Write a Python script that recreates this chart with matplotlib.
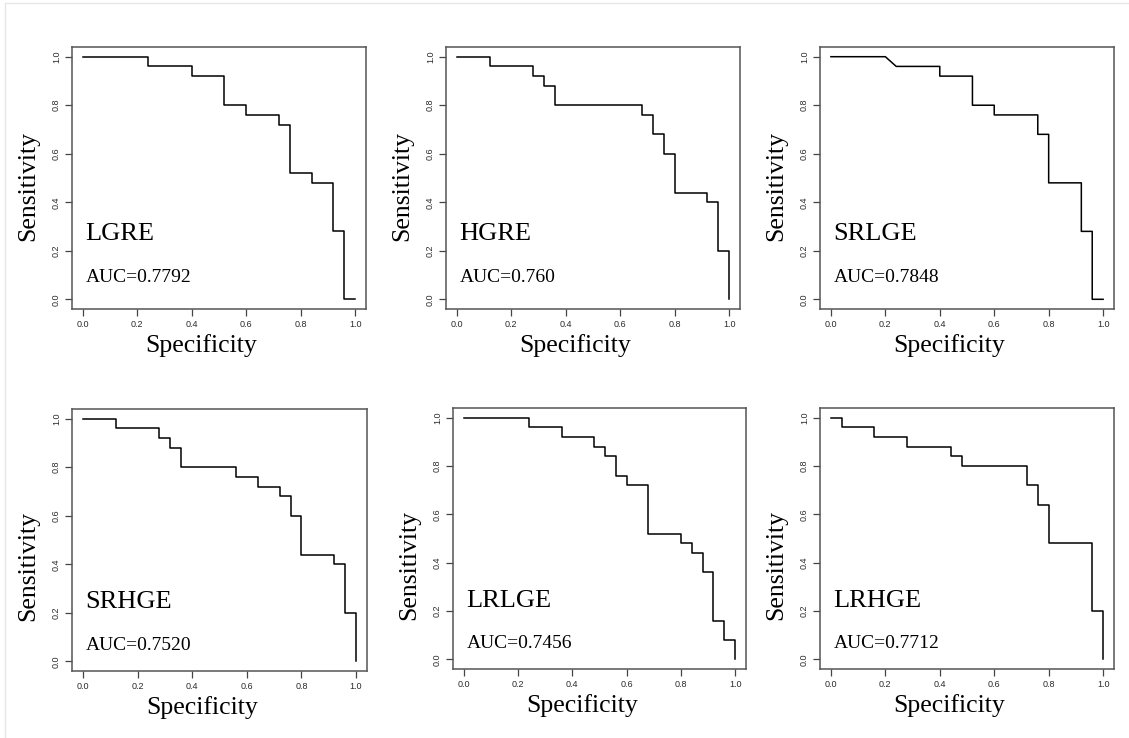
import matplotlib
matplotlib.use("Agg")
import matplotlib.pyplot as plt
from matplotlib.lines import Line2D

# ROC curve vertices (specificity, sensitivity)
lgre_spec = [0, 0.24, 0.24, 0.40, 0.40, 0.52, 0.52, 0.60, 0.60, 0.72, 0.72, 0.76, 0.76, 0.84, 0.84, 0.92, 0.92, 0.96, 0.96, 1.0]
lgre_sens = [1, 1, 0.96, 0.96, 0.92, 0.92, 0.80, 0.80, 0.76, 0.76, 0.72, 0.72, 0.52, 0.52, 0.48, 0.48, 0.28, 0.28, 0, 0]

hgre_spec = [0, 0.12, 0.12, 0.28, 0.28, 0.32, 0.32, 0.36, 0.36, 0.68, 0.68, 0.72, 0.72, 0.76, 0.76, 0.80, 0.80, 0.92, 0.92, 0.96, 0.96, 1.0, 1.0]
hgre_sens = [1, 1, 0.96, 0.96, 0.92, 0.92, 0.88, 0.88, 0.80, 0.80, 0.76, 0.76, 0.68, 0.68, 0.60, 0.60, 0.44, 0.44, 0.40, 0.40, 0.20, 0.20, 0]

srlge_spec = [0, 0.20, 0.24, 0.40, 0.40, 0.52, 0.52, 0.60, 0.60, 0.76, 0.76, 0.80, 0.80, 0.92, 0.92, 0.96, 0.96, 1.0]
srlge_sens = [1, 1, 0.96, 0.96, 0.92, 0.92, 0.80, 0.80, 0.76, 0.76, 0.68, 0.68, 0.48, 0.48, 0.28, 0.28, 0, 0]

srhge_spec = [0, 0.12, 0.12, 0.28, 0.28, 0.32, 0.32, 0.36, 0.36, 0.56, 0.56, 0.64, 0.64, 0.72, 0.72, 0.76, 0.76, 0.80, 0.80, 0.92, 0.92, 0.96, 0.96, 1.0, 1.0]
srhge_sens = [1, 1, 0.96, 0.96, 0.92, 0.92, 0.88, 0.88, 0.80, 0.80, 0.76, 0.76, 0.72, 0.72, 0.68, 0.68, 0.60, 0.60, 0.44, 0.44, 0.40, 0.40, 0.20, 0.20, 0]

lrlge_spec = [0, 0.24, 0.24, 0.36, 0.36, 0.48, 0.48, 0.52, 0.52, 0.56, 0.56, 0.60, 0.60, 0.68, 0.68, 0.80, 0.80, 0.84, 0.84, 0.88, 0.88, 0.92, 0.92, 0.96, 0.96, 1.0, 1.0]
lrlge_sens = [1, 1, 0.96, 0.96, 0.92, 0.92, 0.88, 0.88, 0.84, 0.84, 0.76, 0.76, 0.72, 0.72, 0.52, 0.52, 0.48, 0.48, 0.44, 0.44, 0.36, 0.36, 0.16, 0.16, 0.08, 0.08, 0]

lrhge_spec = [0, 0.04, 0.04, 0.16, 0.16, 0.28, 0.28, 0.44, 0.44, 0.48, 0.48, 0.72, 0.72, 0.76, 0.76, 0.80, 0.80, 0.96, 0.96, 1.0, 1.0]
lrhge_sens = [1, 1, 0.96, 0.96, 0.92, 0.92, 0.88, 0.88, 0.84, 0.84, 0.80, 0.80, 0.72, 0.72, 0.64, 0.64, 0.48, 0.48, 0.20, 0.20, 0]

names = ["LGRE", "HGRE", "SRLGE", "SRHGE", "LRLGE", "LRHGE"]
aucs = ["AUC=0.7792", "AUC=0.760", "AUC=0.7848", "AUC=0.7520", "AUC=0.7456", "AUC=0.7712"]
tick_labels = ["0.0", "0.2", "0.4", "0.6", "0.8", "1.0"]
specs = [lgre_spec, hgre_spec, srlge_spec, srhge_spec, lrlge_spec, lrhge_spec]
senss = [lgre_sens, hgre_sens, srlge_sens, srhge_sens, lrlge_sens, lrhge_sens]

W, H = 1129, 738
# axes boxes in pixels: left, top, right, bottom
boxes = [(72, 47, 366, 309), (446, 47, 740, 309), (820, 47, 1114, 309),
         (72, 409, 367, 671), (453, 408, 746, 669), (820, 408, 1114, 669)]

serif = ["Liberation Serif", "DejaVu Serif"]
sans = ["Liberation Sans", "DejaVu Sans"]

fig = plt.figure(figsize=(W / 100, H / 100), dpi=100)
fig.add_artist(Line2D([5 / W, 5 / W], [0, 1 - 3 / H], color="#e6e6e6", lw=1))
fig.add_artist(Line2D([5 / W, 1], [1 - 3 / H, 1 - 3 / H], color="#e6e6e6", lw=1))

for i in range(6):
    l, t, r, b = boxes[i]
    ax = fig.add_axes([l / W, 1 - b / H, (r - l) / W, (b - t) / H])
    ax.plot(specs[i], senss[i], color="black", lw=1.1)
    ax.set_xlim(-0.04, 1.04)
    ax.set_ylim(-0.04, 1.04)
    ticks = [0, 0.2, 0.4, 0.6, 0.8, 1.0]
    ax.set_xticks(ticks)
    ax.set_yticks(ticks)
    ax.set_xticklabels(tick_labels, family=sans, fontsize=6.5, color="#2a2a2a")
    ax.set_yticklabels(tick_labels, family=sans, fontsize=6.5, color="#2a2a2a",
                       rotation=90, va="center")
    ax.tick_params(direction="out", length=5, width=0.9, color="#444444", pad=3)
    for s in ax.spines.values():
        s.set_color("#555555")
        s.set_linewidth(1.1)

    row_top = i < 3
    ax.set_xlabel("Specificity", family=serif, fontsize=18.5, color="black")
    ax.xaxis.set_label_coords(0.44, -0.095)
    ax.set_ylabel("Sensitivity", family=serif, fontsize=18.5, color="black")
    ax.yaxis.set_label_coords(-0.112, 0.47 if row_top else 0.40)

    name_y = 0.245 if row_top else 0.218
    auc_y = 0.073 if row_top else 0.047
    ax.text(0.01, name_y, names[i], family=serif, fontsize=19, ha="left", va="baseline")
    ax.text(0.01, auc_y, aucs[i], family=serif, fontsize=14, ha="left", va="baseline")

fig.savefig("out.png", dpi=100, facecolor="white")
